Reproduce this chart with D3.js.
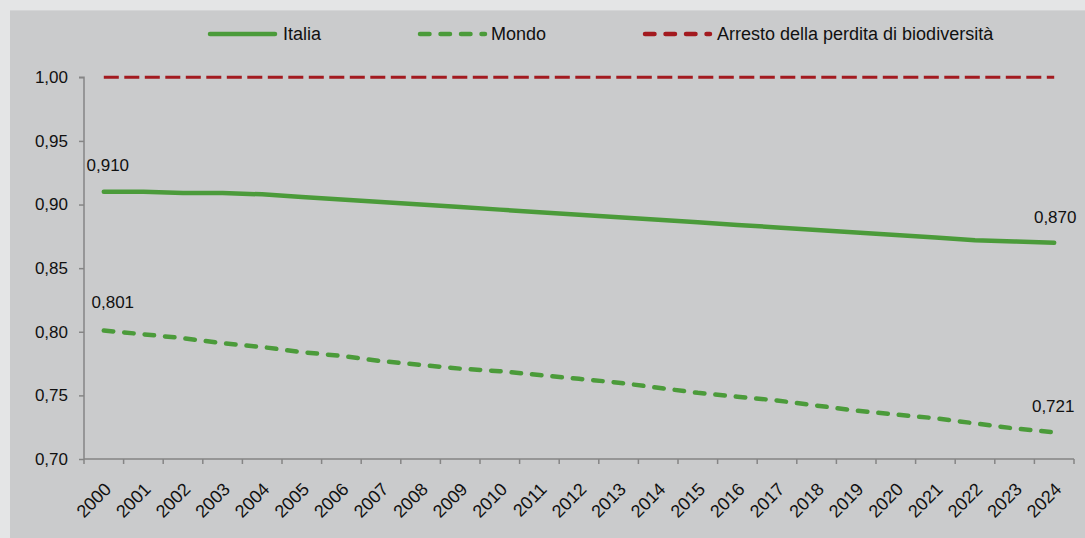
<!DOCTYPE html>
<html>
<head>
<meta charset="utf-8">
<script src="https://cdn.jsdelivr.net/npm/d3@7"></script>
<style>
  html, body { margin: 0; padding: 0; background: #cacbcc; overflow: hidden; }
  svg { display: block; }
  text { font-family: "Liberation Sans", Arial, sans-serif; fill: #111; }
</style>
</head>
<body>
<svg id="chart" width="1085" height="538"></svg>
<script>
const years = ["2000","2001","2002","2003","2004","2005","2006","2007","2008","2009","2010","2011","2012","2013","2014","2015","2016","2017","2018","2019","2020","2021","2022","2023","2024"];
const italia = [0.910,0.910,0.909,0.909,0.908,0.906,0.904,0.902,0.900,0.898,0.896,0.894,0.892,0.890,0.888,0.886,0.884,0.882,0.880,0.878,0.876,0.874,0.872,0.871,0.870];
const mondo = [0.801,0.798,0.795,0.791,0.788,0.784,0.781,0.777,0.774,0.771,0.769,0.766,0.763,0.760,0.756,0.752,0.749,0.746,0.742,0.738,0.735,0.732,0.728,0.724,0.721];
const target = years.map(() => 1.00);
const yTicks = [0.70,0.75,0.80,0.85,0.90,0.95,1.00];
const seriesNames = ["Italia","Mondo","Arresto della perdita di biodiversità"];

const svg = d3.select("#chart");
const W = 1085, H = 538;
svg.append("rect").attr("x",0).attr("y",0).attr("width",W).attr("height",H).attr("fill","#cacbcc");
svg.append("rect").attr("x",0).attr("y",0).attr("width",W).attr("height",10).attr("fill","#e4e5e6");
svg.append("rect").attr("x",0).attr("y",0).attr("width",10).attr("height",H).attr("fill","#e4e5e6");
svg.append("line").attr("x1",10).attr("x2",W).attr("y1",10.5).attr("y2",10.5).attr("stroke","#d4d5d6").attr("stroke-width",1);

const x = d3.scaleBand().domain(years).range([84,1074]);
const y = d3.scaleLinear().domain([0.70,1.00]).range([459,77.3]);
const cx = d => x(d) + x.bandwidth()/2;
const fmt = v => d3.format(".2f")(v).replace(".", ",");
const fmt3 = v => d3.format(".3f")(v).replace(".", ",");

// Y axis
const yAxis = d3.axisLeft(y).tickValues(yTicks).tickFormat(fmt).tickSize(5).tickPadding(11);
const gy = svg.append("g").attr("transform","translate(84,0)").call(yAxis);
gy.selectAll("path, line").attr("stroke","#858585").attr("stroke-width",1.5);
gy.select("path").attr("d","M-5,77.3H0V459");
gy.selectAll("text").attr("font-size",17).attr("fill","#111").style("font-family","'Liberation Sans', Arial, sans-serif");

// X axis
const gx = svg.append("g").attr("transform","translate(0,459)");
gx.append("line").attr("x1",84).attr("x2",1074).attr("y1",0).attr("y2",0).attr("stroke","#858585").attr("stroke-width",1.5);
const bounds = years.map(d => x(d)).concat([x(years[years.length-1]) + x.bandwidth()]);
gx.selectAll("line.tk").data(bounds).join("line").attr("class","tk")
  .attr("x1",d=>d).attr("x2",d=>d).attr("y1",0).attr("y2",5)
  .attr("stroke","#858585").attr("stroke-width",1.5);
gx.selectAll("text").data(years).join("text")
  .attr("transform", d => `translate(${cx(d)+4},${27}) rotate(-45)`)
  .attr("text-anchor","end")
  .attr("dy","0.35em")
  .attr("font-size",18)
  .text(d => d);

// Lines
const line = d3.line().x((d,i) => cx(years[i])).y(d => y(d));
svg.append("path").datum(target).attr("d",line).attr("fill","none")
  .attr("stroke","#a31a1f").attr("stroke-width",3).attr("stroke-dasharray","15,5.5");
svg.append("path").datum(italia).attr("d",line).attr("fill","none")
  .attr("stroke","#4b9b3a").attr("stroke-width",4.5).attr("stroke-linecap","round");
svg.append("path").datum(mondo).attr("d",line).attr("fill","none")
  .attr("stroke","#4b9b3a").attr("stroke-width",4.5).attr("stroke-linecap","round").attr("stroke-dasharray","9.5,11");

// Data labels
const labels = [
  {v: italia[0], i: 0, dx: 4, dy: -21},
  {v: mondo[0], i: 0, dx: 9, dy: -22},
  {v: italia[italia.length-1], i: years.length-1, dx: 1, dy: -20},
  {v: mondo[mondo.length-1], i: years.length-1, dx: -1, dy: -20}
];
svg.selectAll("text.dl").data(labels).join("text").attr("class","dl")
  .attr("x", d => cx(years[d.i]) + d.dx)
  .attr("y", d => y(d.v) + d.dy)
  .attr("text-anchor","middle")
  .attr("font-size",17)
  .text(d => fmt3(d.v));

// Legend
const leg = [
  {name: seriesNames[0], x1: 210, x2: 275, tx: 283, color: "#4b9b3a", dash: null},
  {name: seriesNames[1], x1: 420, x2: 485, tx: 491, color: "#4b9b3a", dash: "9.5,11"},
  {name: seriesNames[2], x1: 645, x2: 710, tx: 717, color: "#a31a1f", dash: "9.5,11"}
];
const gl = svg.append("g");
leg.forEach(l => {
  gl.append("line").attr("x1",l.x1).attr("x2",l.x2).attr("y1",34).attr("y2",34)
    .attr("stroke",l.color).attr("stroke-width",4.5).attr("stroke-linecap","round")
    .attr("stroke-dasharray",l.dash);
  gl.append("text").attr("x",l.tx).attr("y",34).attr("dy","0.35em").attr("font-size",18).text(l.name);
});
</script>
</body>
</html>
